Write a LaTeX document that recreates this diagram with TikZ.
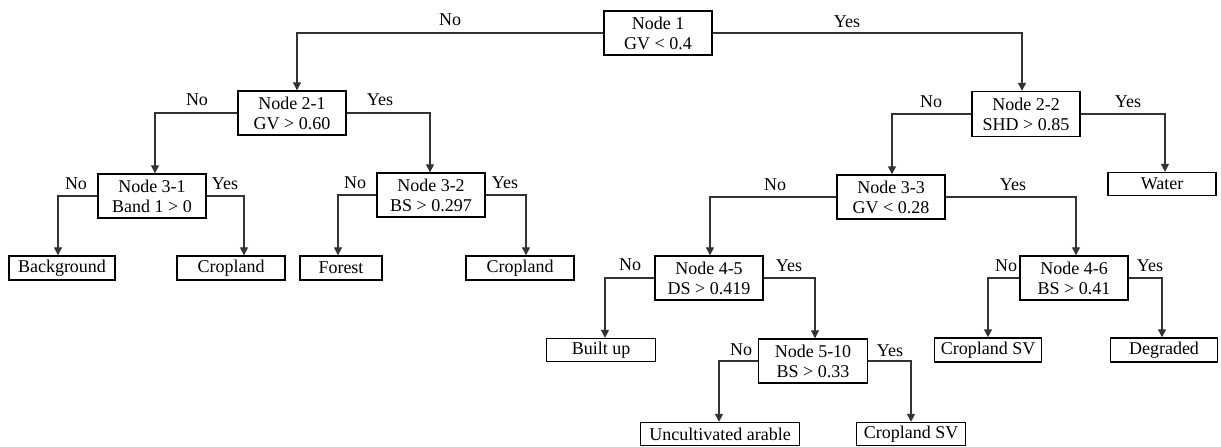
\documentclass[tikz,border=0pt]{standalone}
\usepackage{fontspec}
\setmainfont{Liberation Serif}
\newfontfamily\tnrfont{Liberation Serif}
\usetikzlibrary{arrows.meta}
\begin{document}
\begin{tikzpicture}[x=1pt,y=-1pt,
  every node/.style={font=\tnrfont\fontsize{18}{20}\selectfont},
  dec/.style={draw=black,line width=1.4pt,minimum width=108pt,minimum height=44pt,inner sep=0pt,align=center},
  leaf/.style={draw=black,line width=1.4pt,minimum height=24pt,inner sep=0pt},
  lbl/.style={inner sep=0pt},
  con/.style={draw=black!80,line width=1.3pt,-{Triangle[width=8pt,length=8pt]}}
]
\useasboundingbox (0,0) rectangle (1221,447);
% decision nodes
\node[dec] (n1) at (658,33) {Node 1\\GV < 0.4};
\node[dec] (n21) at (292,113) {Node 2-1\\GV > 0.60};
\node[dec,minimum height=45pt] (n22) at (1026,114) {Node 2-2\\SHD > 0.85};
\node[dec] (n31) at (152,196) {Node 3-1\\Band 1 > 0};
\node[dec] (n32) at (431,195) {Node 3-2\\BS > 0.297};
\node[dec] (n33) at (891,197) {Node 3-3\\GV < 0.28};
\node[dec] (n45) at (709,278) {Node 4-5\\DS > 0.419};
\node[dec] (n46) at (1074,278) {Node 4-6\\BS > 0.41};
\node[dec,minimum width=109pt] (n510) at (813,361) {Node 5-10\\BS > 0.33};
% leaves
\node[leaf,minimum width=106pt] (bg) at (62,268) {Background};
\node[leaf,minimum width=108pt] (cr1) at (231,268) {Cropland};
\node[leaf,minimum width=82pt] (fo) at (341,268) {Forest};
\node[leaf,minimum width=108pt] (cr2) at (520,268) {Cropland};
\node[leaf,minimum width=108pt,minimum height=23pt] (wa) at (1162,184) {Water};
\node[leaf,minimum width=109pt,minimum height=23pt] (bu) at (601,350) {Built up};
\node[leaf,minimum width=107pt] (csv1) at (988,350) {Cropland SV};
\node[leaf,minimum width=107pt] (dg) at (1164,350) {Degraded};
\node[leaf,minimum width=159pt,minimum height=23pt] (ua) at (720,434) {Uncultivated arable};
\node[leaf,minimum width=109pt,minimum height=23pt] (csv2) at (911,434) {Cropland SV};
% connectors
\draw[con] (n1.west) -| ([xshift=5pt]n21.north);
\draw[con] (n1.east) -| ([xshift=-4pt]n22.north);
\draw[con] (n21.west) -| ([xshift=3pt]n31.north);
\draw[con] (n21.east) -| ([xshift=-1pt]n32.north);
\draw[con] (n22.west) -| ([xshift=1pt]n33.north);
\draw[con] (n22.east) -| ([xshift=3pt]wa.north);
\draw[con] (n31.west) -| ([xshift=-4pt]bg.north);
\draw[con] (n31.east) -| ([xshift=13pt]cr1.north);
\draw[con] (n32.west) -| ([xshift=-3pt]fo.north);
\draw[con] (n32.east) -| ([xshift=6pt]cr2.north);
\draw[con] (n33.west) -| ([xshift=1pt]n45.north);
\draw[con] (n33.east) -| ([xshift=2pt]n46.north);
\draw[con] (n45.west) -| ([xshift=4pt]bu.north);
\draw[con] (n45.east) -| ([xshift=2pt]n510.north);
\draw[con] (n46.west) -| (csv1.north);
\draw[con] (n46.east) -| ([xshift=-2pt]dg.north);
\draw[con] (n510.west) -| ([xshift=-1pt]ua.north);
\draw[con] (n510.east) -| (csv2.north);
% labels
\node[lbl] (l1n) at (450,20) {No};
\node[lbl] (l1y) at (847,22) {Yes};
\node[lbl] (l21n) at (197,100) {No};
\node[lbl] (l21y) at (380,100) {Yes};
\node[lbl] (l22n) at (931,102) {No};
\node[lbl] (l22y) at (1128,102) {Yes};
\node[lbl] (l31n) at (76,184) {No};
\node[lbl] (l31y) at (225,184) {Yes};
\node[lbl] (l32n) at (355,183) {No};
\node[lbl] (l32y) at (505,183) {Yes};
\node[lbl] (l33n) at (775,185) {No};
\node[lbl] (l33y) at (1013,185) {Yes};
\node[lbl] (l45n) at (630,265) {No};
\node[lbl] (l45y) at (789,266) {Yes};
\node[lbl] (l510n) at (741,350) {No};
\node[lbl] (l510y) at (890,351) {Yes};
\node[lbl] (l46n) at (1006,266) {No};
\node[lbl] (l46y) at (1150,266) {Yes};
\end{tikzpicture}
\end{document}
